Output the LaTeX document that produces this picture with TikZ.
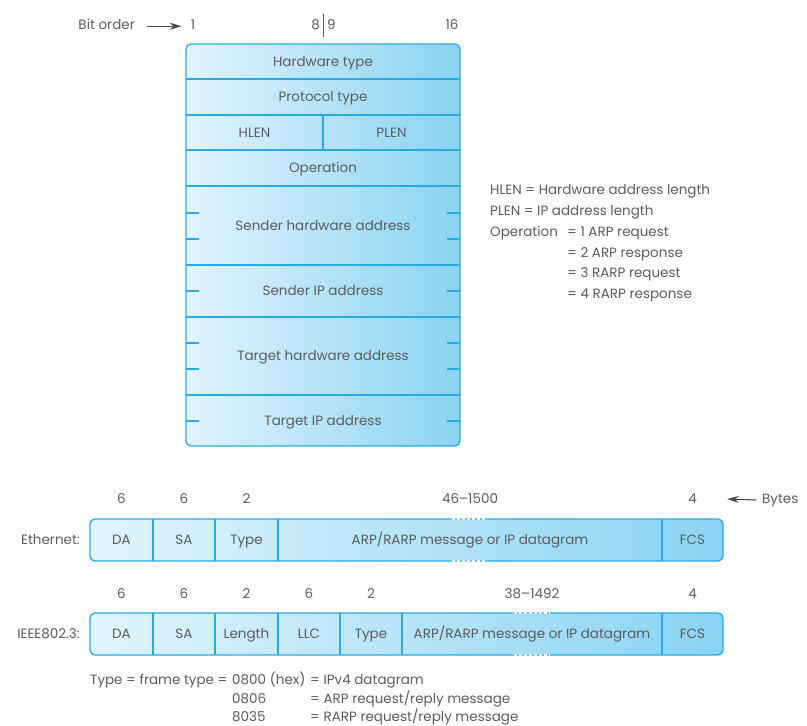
\documentclass[tikz,border=0pt]{standalone}
\usepackage{fontspec}
\setmainfont{Poppins}
\usetikzlibrary{arrows.meta,positioning}
\definecolor{fieldline}{RGB}{41,171,226}
\definecolor{fieldlight}{RGB}{226,244,252}
\definecolor{fielddark}{RGB}{137,211,243}
\definecolor{labelgray}{RGB}{92,92,92}

\begin{document}
\begin{tikzpicture}[x=1pt,y=-1pt]
  \tikzstyle{lbl}=[text=labelgray, font=\fontsize{13.5}{16}\selectfont, inner sep=0pt, text height=9.5pt, text depth=2.5pt, yshift=-1.2pt]
  \tikzstyle{edge}=[draw=fieldline, line width=1.2pt]
  \tikzstyle{bar}=[left color=fieldlight, right color=fielddark, draw=fieldline, line width=1.3pt, rounded corners=5pt]
  \tikzstyle{gap}=[white, line width=1.8pt, dash pattern=on 3pt off 2pt]
  \tikzstyle{arr}=[-{Stealth[length=12pt,width=7pt]}, labelgray!80!black, line width=1.1pt]

  \useasboundingbox (0,0) rectangle (807,726);

  % Bit order header
  \node[lbl, anchor=east] (bitorder) at (135,25) {Bit order};
  \node[lbl] (b1) at (193,25) {1};
  \node[lbl, anchor=east] (b8) at (320,25) {8};
  \node[lbl, anchor=west] (b9) at (327,25) {9};
  \node[lbl] (b16) at (452,25) {16};
  \draw[labelgray, line width=1pt] (323,14) -- (323,37);
  \draw[arr, shorten <=12pt, shorten >=9pt] (bitorder) -- (b1);

  % ARP packet
  \path[bar] (186,44) rectangle (460,446);
  \foreach \y in {79,115,150,186,265,317,395}
    \draw[edge] (186,\y) -- (460,\y);
  \draw[edge] (323,115) -- (323,150);
  \foreach \y in {213,239,291,343,369,421} {
    \draw[edge] (186,\y) -- +(13,0);
    \draw[edge] (460,\y) -- +(-13,0);
  }
  \node[lbl] (hwtype) at (323,61.5) {Hardware type};
  \node[lbl] (prtype) at (323,97) {Protocol type};
  \node[lbl] (hlen) at (254.5,132.5) {HLEN};
  \node[lbl] (plen) at (391.5,132.5) {PLEN};
  \node[lbl] (oper) at (323,168) {Operation};
  \node[lbl] (sha) at (323,226) {Sender hardware address};
  \node[lbl] (spa) at (323,291) {Sender IP address};
  \node[lbl] (tha) at (323,356) {Target hardware address};
  \node[lbl] (tpa) at (323,421) {Target IP address};

  % Legend
  \node[lbl, anchor=west] (keyhlen) at (490,190) {HLEN = Hardware address length};
  \node[lbl, anchor=west] (keyplen) at (490,211) {PLEN = IP address length};
  \node[lbl, anchor=west] (keyop) at (490,232) {Operation};
  \node[lbl, anchor=west] (keyop1) at (567,232) {= 1 ARP request};
  \node[lbl, anchor=west] (keyop2) at (567,253) {= 2 ARP response};
  \node[lbl, anchor=west] (keyop3) at (567,273) {= 3 RARP request};
  \node[lbl, anchor=west] (keyop4) at (567,294) {= 4 RARP response};

  % Ethernet frame
  \path[bar] (90,519) rectangle (723,561);
  \foreach \x in {153,215,278,662}
    \draw[edge] (\x,519) -- (\x,561);
  \draw[gap] (452,519) -- (487,519);
  \draw[gap] (452,561) -- (487,561);
  \node[lbl, anchor=east] (ethname) at (80,540) {Ethernet:};
  \node[lbl] (ethda) at (121.5,540) {DA};
  \node[lbl] (ethsa) at (184,540) {SA};
  \node[lbl] (ethtype) at (246.5,540) {Type};
  \node[lbl] (ethmsg) at (470,540) {ARP/RARP message or IP datagram};
  \node[lbl] (ethfcs) at (692.5,540) {FCS};
  \node[lbl] (eth6a) at (121.5,499) {6};
  \node[lbl] (eth6b) at (184,499) {6};
  \node[lbl] (eth2) at (246.5,499) {2};
  \node[lbl] (ethlen) at (470,499) {46--1500};
  \node[lbl] (eth4) at (692.5,499) {4};
  \node[lbl, anchor=west] (bytes) at (762,499) {Bytes};
  \coordinate (bytestip) at (727,499);
  \draw[arr, shorten <=6pt] (bytes.west) -- (bytestip);

  % IEEE 802.3 frame
  \path[bar] (90,613) rectangle (723,655);
  \foreach \x in {153,215,278,340,402,662}
    \draw[edge] (\x,613) -- (\x,655);
  \draw[gap] (514,613) -- (550,613);
  \draw[gap] (514,655) -- (550,655);
  \node[lbl, anchor=east] (ieeename) at (80,634) {IEEE802.3:};
  \node[lbl] (ieeeda) at (121.5,634) {DA};
  \node[lbl] (ieeesa) at (184,634) {SA};
  \node[lbl] (ieeelen) at (246.5,634) {Length};
  \node[lbl] (ieeellc) at (309,634) {LLC};
  \node[lbl] (ieeetype) at (371,634) {Type};
  \node[lbl] (ieeemsg) at (532,634) {ARP/RARP message or IP datagram};
  \node[lbl] (ieeefcs) at (692.5,634) {FCS};
  \node[lbl] (ieee6a) at (121.5,594) {6};
  \node[lbl] (ieee6b) at (184,594) {6};
  \node[lbl] (ieee2a) at (246.5,594) {2};
  \node[lbl] (ieee6c) at (309,594) {6};
  \node[lbl] (ieee2b) at (371,594) {2};
  \node[lbl] (ieeelen2) at (532,594) {38--1492};
  \node[lbl] (ieee4) at (692.5,594) {4};

  % Type values
  \node[lbl, anchor=west] (typekey) at (90,680) {Type = frame type =};
  \node[lbl, anchor=west] (type0800) at (232,680) {0800 (hex)};
  \node[lbl, anchor=west] (typeip) at (310,680) {= IPv4 datagram};
  \node[lbl, anchor=west] (type0806) at (232,699) {0806};
  \node[lbl, anchor=west] (typearp) at (310,699) {= ARP request/reply message};
  \node[lbl, anchor=west] (type8035) at (232,717) {8035};
  \node[lbl, anchor=west] (typerarp) at (310,717) {= RARP request/reply message};
\end{tikzpicture}
\end{document}
